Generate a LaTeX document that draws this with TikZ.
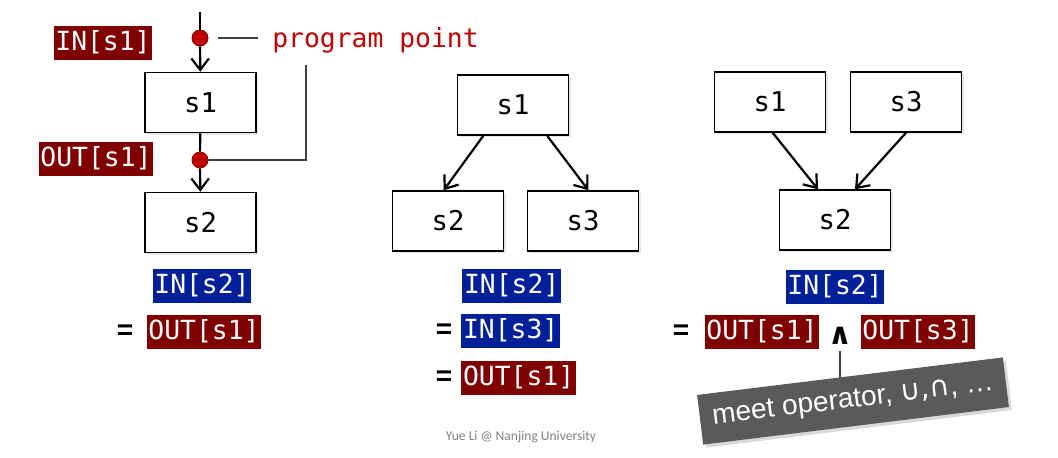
\documentclass[tikz,border=0pt]{standalone}
\usepackage{fontspec}
\setmonofont{DejaVu Sans Mono}
\setsansfont{Liberation Sans}
\newfontfamily\calfont{Carlito}
\newfontfamily\symfont{DejaVu Sans}
\usetikzlibrary{arrows.meta,shadows}
\definecolor{labred}{RGB}{128,0,0}
\definecolor{labblue}{RGB}{0,32,153}
\definecolor{ppred}{RGB}{192,0,0}
\definecolor{calloutgray}{RGB}{90,90,90}
\definecolor{pgray}{RGB}{64,64,64}
\tikzset{
  blk/.style={draw,line width=0.85pt,fill=white,minimum width=2.22cm,minimum height=1.2cm,
    font=\ttfamily\fontsize{15.5}{18}\selectfont,
    drop shadow={opacity=0.2,shadow xshift=0.04cm,shadow yshift=-0.04cm}},
  lab/.style={text=white,inner sep=1pt,text height=13pt,text depth=4pt,font=\ttfamily\fontsize{15}{18}\selectfont},
  redlab/.style={lab,fill=labred},
  bluelab/.style={lab,fill=labblue},
  eqs/.style={font=\sffamily\bfseries\fontsize{16}{18}\selectfont},
  flow/.style={line width=1.25pt,-{Straight Barb[length=2.3mm,width=3.5mm]}},
  pt/.style={circle,fill=ppred,draw=labred,line width=0.5pt,minimum size=0.32cm,inner sep=0pt},
  pline/.style={draw=pgray,line width=0.6pt},
}
\begin{document}
\begin{tikzpicture}
	  \useasboundingbox (0,0) rectangle (21.16,-9.14);
	  % left: program points
	  \coordinate (ltop) at (4.0,-0.24);
	  \node[pt] (pa) at (4.0,-0.76) {};
	  \node[blk] (l1) at (4.01,-2.05) {s1};
	  \node[pt] (pb) at (4.0,-3.2) {};
	  \node[blk] (l2) at (4.01,-4.45) {s2};
	  \node[redlab] (in1) at (2.06,-0.86) {IN[s1]};
	  \node[redlab] (out1) at (1.92,-3.18) {OUT[s1]};
	  \node[anchor=base west,inner sep=0pt,text=ppred,font=\ttfamily\fontsize{15}{18}\selectfont] (pp) at (5.44,-0.94) {program point};
	  \coordinate (ppend) at (6.12,-1.3);
	  \draw[line width=1.25pt] (ltop) -- (pa);
	  \draw[flow] (pa) -- (l1);
	  \draw[line width=1.25pt] (l1) -- (pb);
	  \draw[flow] (pb) -- (l2);
	  \draw[pline,shorten <=0.2cm,shorten >=0.28cm] (pa.east) -- (pa.east -| pp.west);
	  \draw[pline] (pb.east) -| (ppend);
	  \node[bluelab] (lin2) at (4.04,-5.72) {IN[s2]};
	  \node[eqs] (leq) at (2.5,-6.64) {=};
	  \node[redlab] (lout1) at (4.08,-6.64) {OUT[s1]};
	  % middle: one into two
	  \node[blk] (m1) at (10.26,-2.1) {s1};
	  \node[blk] (m2) at (8.96,-4.42) {s2};
	  \node[blk] (m3) at (11.66,-4.42) {s3};
	  \draw[flow] (m1.226) -- (m2.98);
	  \draw[flow] (m1.318) -- (m3.80);
	  \node[bluelab,anchor=west] (min2) at (9.24,-5.72) {IN[s2]};
	  \node[eqs] (meq1) at (8.88,-6.62) {=};
	  \node[bluelab,anchor=west] (min3) at (9.22,-6.62) {IN[s3]};
	  \node[eqs] (meq2) at (8.88,-7.56) {=};
	  \node[redlab,anchor=west] (mout1) at (9.22,-7.56) {OUT[s1]};
	  % right: two into one
	  \node[blk] (r1) at (15.4,-2.04) {s1};
	  \node[blk] (r3) at (18.12,-2.04) {s3};
	  \node[blk] (r2) at (16.7,-4.4) {s2};
	  \draw[flow] (r1.275) -- (r2.119);
	  \draw[flow] (r3.270) -- (r2.57);
	  \node[bluelab] (rin2) at (16.7,-5.74) {IN[s2]};
	  \node[eqs] (req) at (13.62,-6.64) {=};
	  \node[redlab] (rout1) at (15.24,-6.64) {OUT[s1]};
	  \node[font=\symfont\bfseries\fontsize{17}{19}\selectfont] (meetop) at (16.8,-6.72) {∧};
	  \node[redlab] (rout3) at (18.36,-6.64) {OUT[s3]};
	  \coordinate (mt) at (16.8,-7.6);
	  \draw[line width=0.8pt,draw=pgray] (meetop.south) -- (mt);
	  \node[fill=calloutgray,text=white,rotate=7,minimum width=6.16cm,minimum height=1.0cm,
	    font=\sffamily\fontsize{16}{18}\selectfont,
	    drop shadow={opacity=0.3,shadow xshift=0.06cm,shadow yshift=-0.06cm}] (meet) at (17.06,-8.02)
	    {meet operator, {\symfont ∪,∩}, …};
	  \node[text=gray,font=\calfont\fontsize{7.7}{9}\selectfont] (credit) at (10.42,-8.74) {Yue Li @ Nanjing University};
	\end{tikzpicture}
\end{document}
